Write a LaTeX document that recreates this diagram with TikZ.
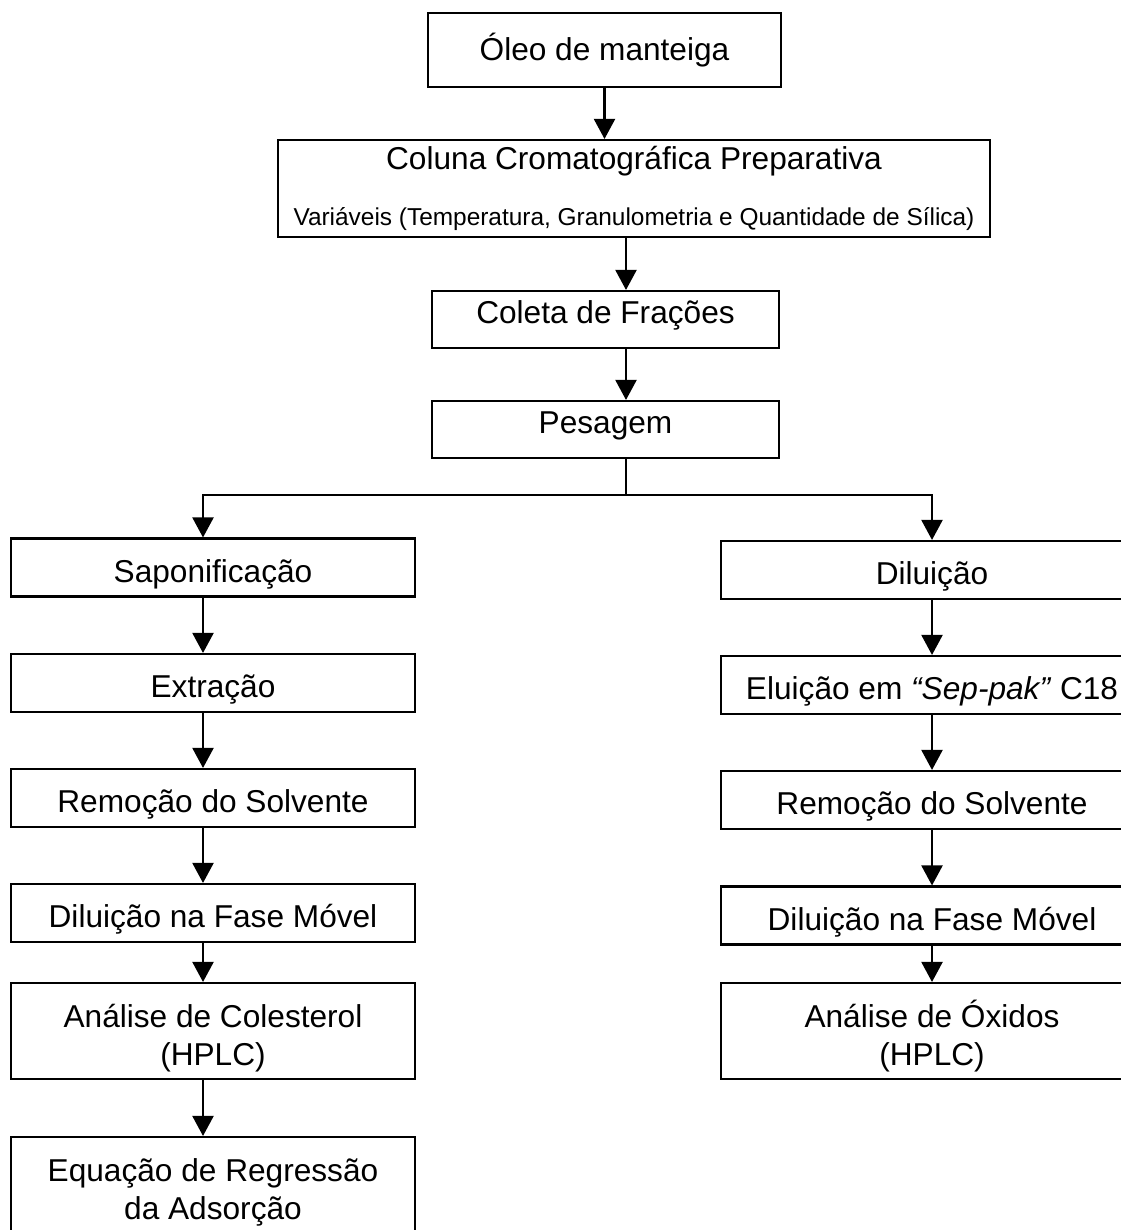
\documentclass[tikz,border=0pt]{standalone}
\usepackage{fontspec}
\setmainfont{Liberation Sans}
\usetikzlibrary{arrows.meta}

\tikzset{
  box/.style={draw, line width=1.2pt, inner sep=0pt, align=center,
    font=\fontsize{18}{21.5}\selectfont},
  leftbox/.style={box, minimum width=8.08cm, minimum height=1.16cm,
    text height=16.5pt, text depth=0pt},
  rightbox/.style={box, minimum width=8.44cm, minimum height=1.16cm,
    text height=16.5pt, text depth=0pt},
  tallbox/.style={minimum height=1.92cm, text height=39.5pt, text depth=0pt},
  topbox/.style={box, minimum width=6.94cm, minimum height=1.14cm,
    text height=15pt, text depth=10pt},
  arr/.style={line width=1.2pt, -{Triangle[length=0.4cm, width=0.42cm]}},
}

\begin{document}
\begin{tikzpicture}[x=0.02cm, y=-0.02cm]
  \useasboundingbox (0,0) rectangle (1121,1230);
  \clip (0,0) rectangle (1121,1230);

  % top chain
  \node[box, minimum width=7.06cm, minimum height=1.48cm] (oleo) at (604.5,50)
  {Óleo de manteiga};
  \node[box, minimum width=14.24cm, minimum height=1.94cm] (coluna) at (634,188.5)
  {Coluna Cromatográfica Preparativa\\[10pt]
  {\fontsize{13.9}{16}\selectfont Variáveis (Temperatura, Granulometria e Quantidade de Sílica)}};
  \node[topbox] (coleta) at (605.5,319.5) {Coleta de Frações};
  \node[topbox] (pesagem) at (605.5,429.5) {Pesagem};

  % left column
  \node[leftbox] (sap) at (213,567.5) {Saponificação};
  \node[leftbox] (extr) at (213,683) {Extração};
  \node[leftbox] (remL) at (213,798) {Remoção do Solvente};
  \node[leftbox] (dilL) at (213,913) {Diluição na Fase Móvel};
  \node[leftbox, tallbox] (anaL) at (213,1031) {Análise de Colesterol\\(HPLC)};
  \node[leftbox, tallbox] (eqL) at (213,1185) {Equação de Regressão\\da Adsorção};

  % right column
  \node[rightbox] (dilR) at (932,570) {Diluição};
  \node[rightbox] (elu) at (932,685) {Eluição em \textit{“Sep-pak”} C18};
  \node[rightbox] (remR) at (932,800) {Remoção do Solvente};
  \node[rightbox] (dilRb) at (932,915.5) {Diluição na Fase Móvel};
  \node[rightbox, tallbox] (anaR) at (932,1031) {Análise de Óxidos\\(HPLC)};

  % connectors
  \draw[arr] (oleo.south) -- (oleo.south |- coluna.north);
  \draw[arr] ([xshift=0.41cm]coleta.north |- coluna.south) -- ([xshift=0.41cm]coleta.north);
  \draw[arr] ([xshift=0.41cm]coleta.south) -- ([xshift=0.41cm]pesagem.north);

  \coordinate (split) at (626,495);
  \draw[line width=1.2pt] (pesagem.south -| split) -- (split);
  \draw[arr] (split) -| ([xshift=-0.2cm]sap.north);
  \draw[arr] (split) -| (dilR.north);

  \foreach \a/\b in {sap/extr, extr/remL, remL/dilL, dilL/anaL, anaL/eqL}
    \draw[arr] ([xshift=-0.2cm]\a.south) -- ([xshift=-0.2cm]\b.north);
  \foreach \a/\b in {dilR/elu, elu/remR, remR/dilRb, dilRb/anaR}
    \draw[arr] (\a) -- (\b);
\end{tikzpicture}
\end{document}
